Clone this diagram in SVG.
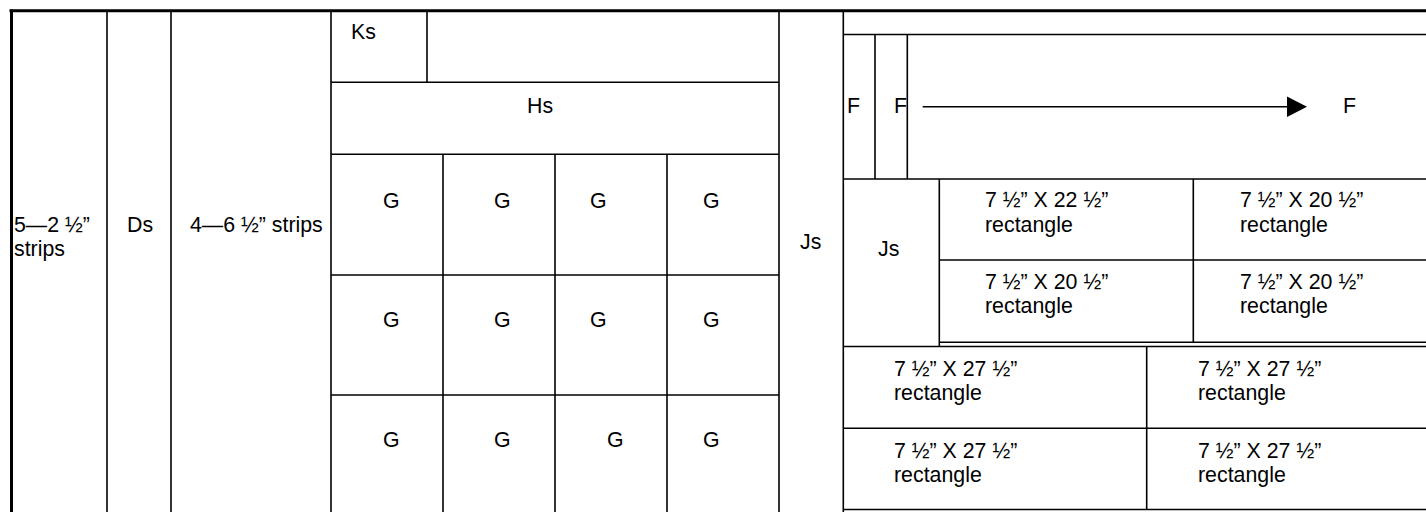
<svg xmlns="http://www.w3.org/2000/svg" width="1426" height="512" viewBox="0 0 1426 512">
<style>
.ln{stroke:#000;stroke-width:1.6;fill:none}
.thick{stroke:#000;stroke-width:3;fill:none}
text{font-family:"Liberation Sans",Arial,sans-serif;font-size:21.33px;fill:#000}
</style>
<rect width="1426" height="512" fill="#fff"/>
<g id="frame">
<line class="thick" x1="9.5" y1="10.7" x2="1426" y2="10.7"/>
<line class="thick" x1="11.5" y1="9.5" x2="11.5" y2="512"/>
<line class="ln" x1="107" y1="11" x2="107" y2="512"/>
<line class="ln" x1="171" y1="11" x2="171" y2="512"/>
<line class="ln" x1="331" y1="11" x2="331" y2="512"/>
<line class="ln" x1="779" y1="11" x2="779" y2="512"/>
<line class="ln" x1="843.3" y1="11" x2="843.3" y2="512"/>
</g>
<g id="strips5">
<text x="14" y="231.7">5—2 ½”</text>
<text x="14" y="256">strips</text>
</g>
<g id="Ds"><text x="127" y="231.7">Ds</text></g>
<g id="strips4"><text x="190" y="231.7">4—6 ½” strips</text></g>
<g id="Ks">
<line class="ln" x1="427" y1="11" x2="427" y2="82.3"/>
<line class="ln" x1="331" y1="82.3" x2="779" y2="82.3"/>
<text x="351" y="39.3">Ks</text>
</g>
<g id="Hs">
<line class="ln" x1="331" y1="154.3" x2="779" y2="154.3"/>
<text x="527" y="112.7">Hs</text>
</g>
<g id="G-grid">
<line class="ln" x1="443" y1="154.3" x2="443" y2="512"/>
<line class="ln" x1="555" y1="154.3" x2="555" y2="512"/>
<line class="ln" x1="667" y1="154.3" x2="667" y2="512"/>
<line class="ln" x1="331" y1="275" x2="779" y2="275"/>
<line class="ln" x1="331" y1="395" x2="779" y2="395"/>
<text x="383" y="208.3">G</text><text x="494" y="208.3">G</text><text x="590" y="208.3">G</text><text x="703" y="208.3">G</text>
<text x="383" y="326.7">G</text><text x="494" y="326.7">G</text><text x="590" y="326.7">G</text><text x="703" y="326.7">G</text>
<text x="383" y="447.3">G</text><text x="494" y="447.3">G</text><text x="607" y="447.3">G</text><text x="703" y="447.3">G</text>
</g>
<g id="Js-mid"><text x="800" y="249">Js</text></g>
<g id="F-area">
<line class="ln" x1="843.3" y1="34.5" x2="1426" y2="34.5"/>
<line class="ln" x1="875" y1="34.5" x2="875" y2="179"/>
<line class="ln" x1="907.3" y1="34.5" x2="907.3" y2="179"/>
<line class="ln" x1="843.3" y1="179" x2="1426" y2="179"/>
<text x="847" y="113">F</text>
<text x="894" y="113">F</text>
<text x="1343" y="113">F</text>
</g>
<g id="connectors">
<line class="ln" x1="922.7" y1="106.7" x2="1289" y2="106.7"/>
<polygon points="1287,96.4 1307,106.7 1287,117" fill="#000"/>
</g>
<g id="Js-right">
<line class="ln" x1="939.3" y1="179" x2="939.3" y2="346.5"/>
<text x="878" y="255.7">Js</text>
</g>
<g id="rects-upper">
<line class="ln" x1="1193.3" y1="179" x2="1193.3" y2="342.3"/>
<line class="ln" x1="939.3" y1="260" x2="1426" y2="260"/>
<line class="ln" x1="939.3" y1="342.3" x2="1426" y2="342.3"/>
<text x="985" y="207.3">7 ½” X 22 ½”</text><text x="985" y="231.7">rectangle</text>
<text x="1240" y="207.3">7 ½” X 20 ½”</text><text x="1240" y="231.7">rectangle</text>
<text x="985" y="289">7 ½” X 20 ½”</text><text x="985" y="313.3">rectangle</text>
<text x="1240" y="289">7 ½” X 20 ½”</text><text x="1240" y="313.3">rectangle</text>
</g>
<g id="rects-lower">
<line class="ln" x1="843.3" y1="346.5" x2="1426" y2="346.5"/>
<line class="ln" x1="1146.7" y1="346.5" x2="1146.7" y2="509.5"/>
<line class="ln" x1="843.3" y1="428.3" x2="1426" y2="428.3"/>
<line class="ln" x1="843.3" y1="509.5" x2="1426" y2="509.5"/>
<text x="894" y="375.5">7 ½” X 27 ½”</text><text x="894" y="400">rectangle</text>
<text x="1198" y="375.5">7 ½” X 27 ½”</text><text x="1198" y="400">rectangle</text>
<text x="894" y="458.3">7 ½” X 27 ½”</text><text x="894" y="481.7">rectangle</text>
<text x="1198" y="458.3">7 ½” X 27 ½”</text><text x="1198" y="481.7">rectangle</text>
</g>
</svg>
